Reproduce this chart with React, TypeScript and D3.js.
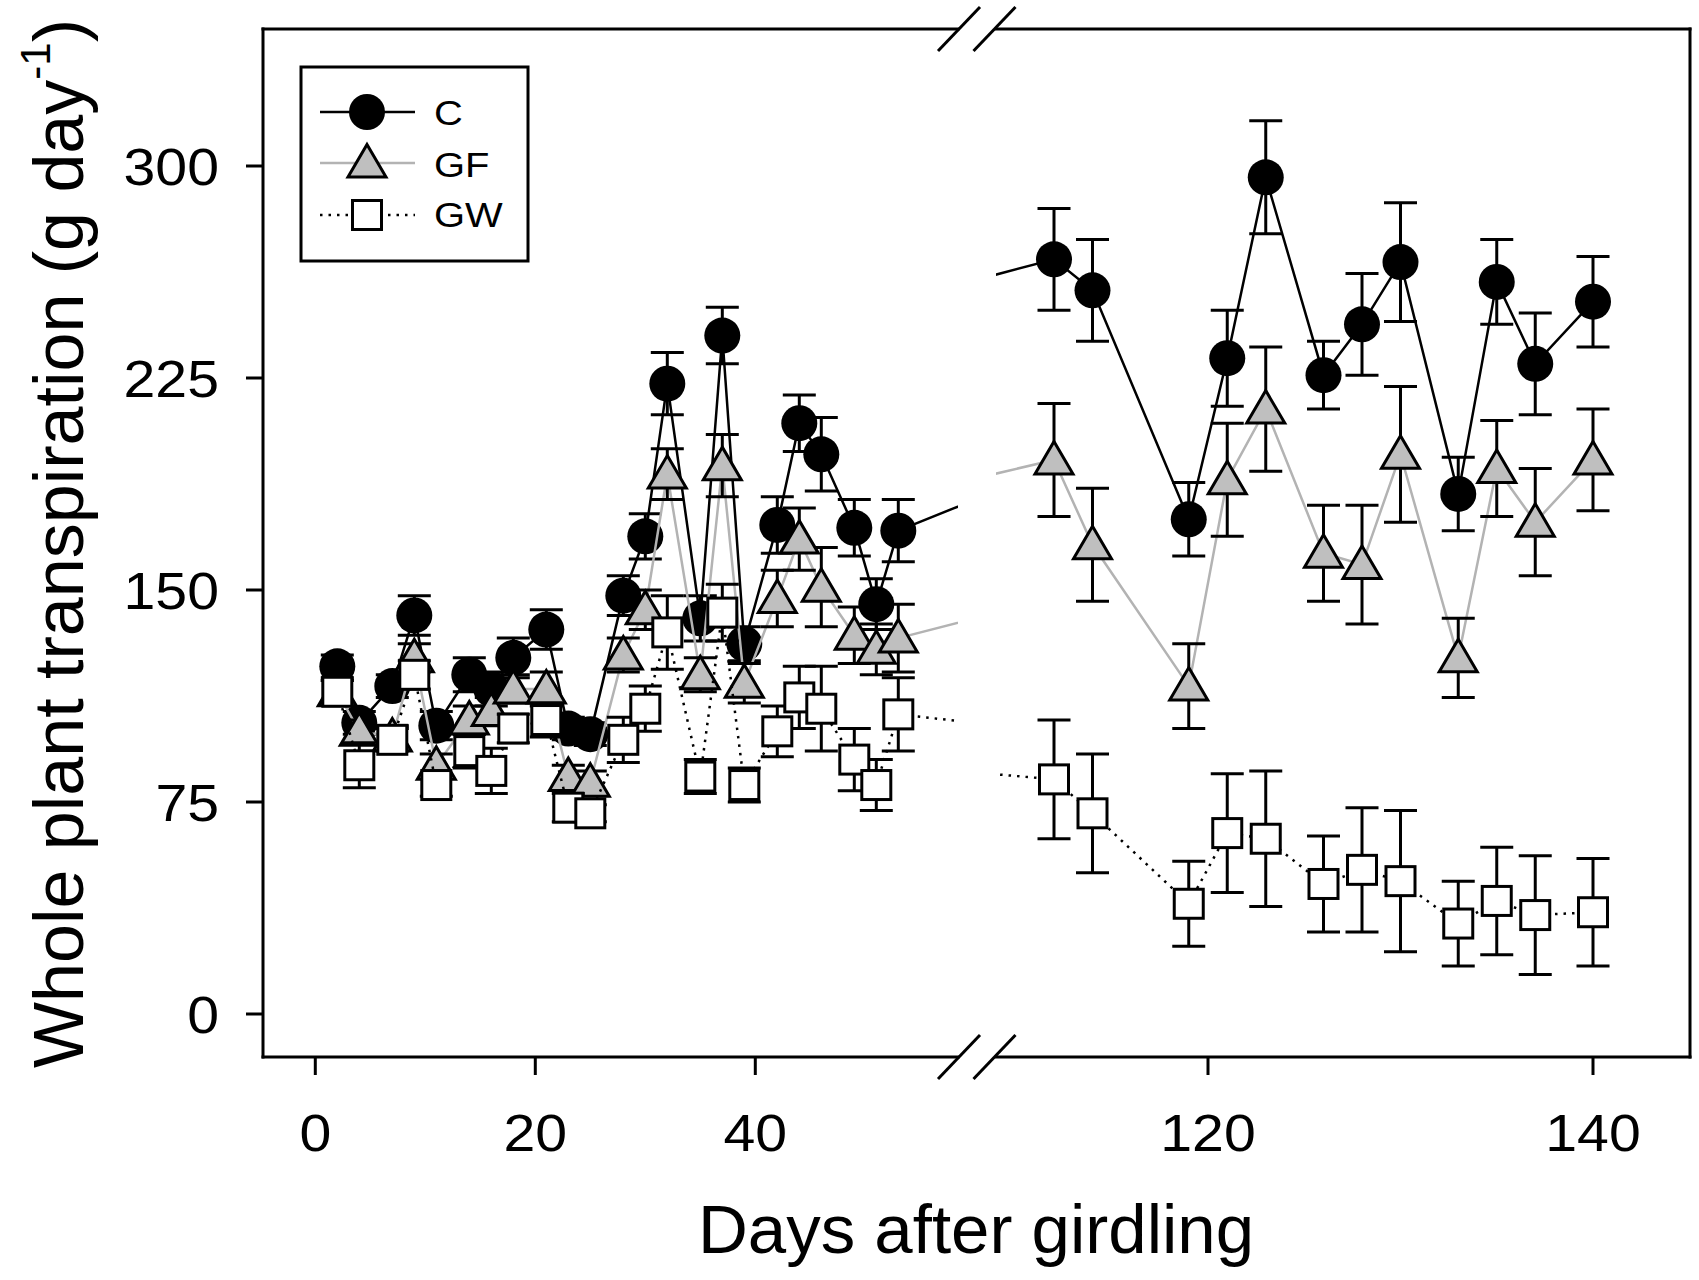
import React from "react";
import * as d3 from "d3";

// ---------- data ----------
const DAYS_EARLY = [2, 4, 7, 9, 11, 14, 16, 18, 21, 23, 25, 28, 30, 32, 35, 37, 39, 42, 44, 46, 49, 51, 53];
const C_EARLY = [123, 103, 116, 141, 102, 120, 115, 126, 136, 101, 99, 148, 169, 223, 140, 240, 131, 173, 209, 198, 172, 145, 171];
const C_EARLY_ERR = [4, 4, 4, 7, 5, 6, 6, 7, 7, 4, 4, 7, 8, 11, 8, 10, 6, 10, 10, 13, 10, 9, 11];
const GF_EARLY = [114, 100, 98, 126, 88, 104, 107, 115, 115, 84, 82, 127, 143, 191, 120, 194, 117, 147, 168, 151, 134, 129, 133];
const GF_EARLY_ERR = [4, 4, 4, 5, 4, 5, 5, 5, 6, 4, 4, 6, 7, 9, 6, 11, 7, 10, 11, 14, 10, 9, 12];
const GW_EARLY = [114, 88, 97, 120, 81, 93, 86, 101, 104, 73, 71, 97, 108, 135, 84, 142, 81, 100, 112, 108, 90, 81, 106];
const GW_EARLY_ERR = [4, 8, 4, 5, 4, 6, 8, 5, 6, 5, 3, 8, 8, 13, 6, 10, 6, 9, 11, 15, 11, 9, 13];

const DAYS_LATE = [112, 114, 119, 121, 123, 126, 128, 130, 133, 135, 137, 140];
const C_LATE = [267, 256, 175, 232, 296, 226, 244, 266, 184, 259, 230, 252];
const C_LATE_ERR = [18, 18, 13, 17, 20, 12, 18, 21, 13, 15, 18, 16];
const GF_LATE = [196, 166, 116, 189, 214, 163, 159, 198, 126, 193, 174, 196];
const GF_LATE_ERR = [20, 20, 15, 20, 22, 17, 21, 24, 14, 17, 19, 18];
const GW_LATE = [83, 71, 39, 64, 62, 46, 51, 47, 32, 40, 35, 36];
const GW_LATE_ERR = [21, 21, 15, 21, 24, 17, 22, 25, 15, 19, 21, 19];

// unseen neighbouring measurements beyond the axis break (only their connecting lines show)
const DAY_AFTER_EARLY = 60;
const AFTER_EARLY = { C: 182, GF: 140, GW: 103 };
const DAY_BEFORE_LATE = 107;
const BEFORE_LATE = { C: 258, GF: 188, GW: 86 };

const Y_TICKS = [0, 75, 150, 225, 300];
const X_TICKS_EARLY = [0, 20, 40];
const X_TICKS_LATE = [120, 140];
const SERIES_NAMES = ["C", "GF", "GW"];

// ---------- layout ----------
const W = 1699;
const H = 1280;
const LEFT = 263;
const RIGHT = 1690;
const TOP = 29;
const BOTTOM = 1057;
const BREAK_L = 958;
const BREAK_R = 996;
const FONT = "'Liberation Sans', Arial, Helvetica, sans-serif";

const y = d3.scaleLinear().domain([0, 300]).range([1014, 166]);
const xEarly = d3.scaleLinear().domain([0, 40]).range([315.3, 755.3]);
const xLate = d3.scaleLinear().domain([120, 140]).range([1208, 1593]);

type Pt = { d: number; v: number; e?: number };

function pts(days: number[], vals: number[], errs: number[]): Pt[] {
  return days.map((d, i) => ({ d, v: vals[i], e: errs[i] }));
}

const GRAY_LINE = "#b3b3b3";
const GRAY_FILL = "#bfbfbf";

function Marker({ kind, cx, cy }: { kind: string; cx: number; cy: number }) {
  if (kind === "C") return <circle cx={cx} cy={cy} r={18} fill="#000" />;
  if (kind === "GF")
    return (
      <path
        d={`M${cx},${cy - 18.5} L${cx + 19},${cy + 14} L${cx - 19},${cy + 14} Z`}
        fill={GRAY_FILL}
        stroke="#000"
        strokeWidth={3}
        strokeLinejoin="miter"
      />
    );
  return <rect x={cx - 14.5} y={cy - 14.5} width={29} height={29} fill="#fff" stroke="#000" strokeWidth={3} />;
}

function lineStyle(kind: string) {
  if (kind === "C") return { stroke: "#000", strokeWidth: 2.5 };
  if (kind === "GF") return { stroke: GRAY_LINE, strokeWidth: 2.5 };
  return { stroke: "#000", strokeWidth: 2.5, strokeDasharray: "2.5 6" };
}

function Series({
  kind,
  data,
  extra,
  x,
  clip,
}: {
  kind: string;
  data: Pt[];
  extra: Pt;
  x: d3.ScaleLinear<number, number>;
  clip: string;
}) {
  const all = [...data, extra].sort((a, b) => a.d - b.d);
  const gen = d3
    .line<Pt>()
    .x((p) => x(p.d))
    .y((p) => y(p.v));
  const st = lineStyle(kind);
  return (
    <g clipPath={`url(#${clip})`}>
      <path d={gen(all) || ""} fill="none" {...st} />
      {data.map((p, i) => {
        const cx = x(p.d);
        const y1 = y(p.v + (p.e || 0));
        const y2 = y(p.v - (p.e || 0));
        return (
          <g key={"e" + i} stroke="#000" strokeWidth={3}>
            <line x1={cx} x2={cx} y1={y1} y2={y2} />
            <line x1={cx - 16.5} x2={cx + 16.5} y1={y1} y2={y1} />
            <line x1={cx - 16.5} x2={cx + 16.5} y1={y2} y2={y2} />
          </g>
        );
      })}
      {data.map((p, i) => (
        <Marker key={"m" + i} kind={kind} cx={x(p.d)} cy={y(p.v)} />
      ))}
    </g>
  );
}

function Txt({
  x,
  yy,
  size,
  anchor,
  children,
  sx = 1,
}: {
  x: number;
  yy: number;
  size: number;
  anchor: string;
  children: React.ReactNode;
  sx?: number;
}) {
  return (
    <text
      transform={`translate(${x},${yy}) scale(${sx},1)`}
      fontFamily={FONT}
      fontSize={size}
      textAnchor={anchor as any}
      fill="#000"
    >
      {children}
    </text>
  );
}

export default function App() {
  const earlySets: Record<string, Pt[]> = {
    C: pts(DAYS_EARLY, C_EARLY, C_EARLY_ERR),
    GF: pts(DAYS_EARLY, GF_EARLY, GF_EARLY_ERR),
    GW: pts(DAYS_EARLY, GW_EARLY, GW_EARLY_ERR),
  };
  const lateSets: Record<string, Pt[]> = {
    C: pts(DAYS_LATE, C_LATE, C_LATE_ERR),
    GF: pts(DAYS_LATE, GF_LATE, GF_LATE_ERR),
    GW: pts(DAYS_LATE, GW_LATE, GW_LATE_ERR),
  };

  const slash = (cx: number, cy: number) => (
    <line x1={cx - 21} y1={cy + 22} x2={cx + 21} y2={cy - 22} stroke="#000" strokeWidth={3} />
  );

  const legendRows = [112, 163, 215];
  const legendBase = [125, 177, 227];

  return (
    <svg
      width={W}
      height={H}
      viewBox={`0 0 ${W} ${H}`}
      style={{ position: "absolute", left: 0, top: 0, display: "block", background: "#fff" }}
    >
      <defs>
        <clipPath id="clipEarly">
          <rect x={LEFT} y={TOP} width={BREAK_L - LEFT} height={BOTTOM - TOP} />
        </clipPath>
        <clipPath id="clipLate">
          <rect x={BREAK_R} y={TOP} width={RIGHT - BREAK_R} height={BOTTOM - TOP} />
        </clipPath>
      </defs>
      <rect x={0} y={0} width={W} height={H} fill="#fff" />

      {/* data */}
      {SERIES_NAMES.map((k) => (
        <Series
          key={"E" + k}
          kind={k}
          data={earlySets[k]}
          extra={{ d: DAY_AFTER_EARLY, v: (AFTER_EARLY as any)[k] }}
          x={xEarly}
          clip="clipEarly"
        />
      ))}
      {SERIES_NAMES.map((k) => (
        <Series
          key={"L" + k}
          kind={k}
          data={lateSets[k]}
          extra={{ d: DAY_BEFORE_LATE, v: (BEFORE_LATE as any)[k] }}
          x={xLate}
          clip="clipLate"
        />
      ))}

      {/* frame */}
      <g stroke="#000" strokeWidth={3} fill="none" strokeLinecap="square">
        <line x1={LEFT} y1={TOP} x2={LEFT} y2={BOTTOM} />
        <line x1={RIGHT} y1={TOP} x2={RIGHT} y2={BOTTOM} />
        <line x1={LEFT} y1={TOP} x2={BREAK_L} y2={TOP} />
        <line x1={BREAK_R} y1={TOP} x2={RIGHT} y2={TOP} />
        <line x1={LEFT} y1={BOTTOM} x2={BREAK_L} y2={BOTTOM} />
        <line x1={BREAK_R} y1={BOTTOM} x2={RIGHT} y2={BOTTOM} />
      </g>
      <g strokeLinecap="butt">
        {slash(959, TOP)}
        {slash(994.5, TOP)}
        {slash(959, BOTTOM)}
        {slash(994.5, BOTTOM)}
      </g>

      {/* y axis */}
      {Y_TICKS.map((t) => (
        <g key={"y" + t}>
          <line x1={246} x2={LEFT} y1={y(t)} y2={y(t)} stroke="#000" strokeWidth={3} />
          <Txt x={219} yy={y(t) + 19} size={52} anchor="end" sx={1.1}>
            {t}
          </Txt>
        </g>
      ))}

      {/* x axis */}
      {X_TICKS_EARLY.map((t) => (
        <g key={"xe" + t}>
          <line x1={xEarly(t)} x2={xEarly(t)} y1={BOTTOM} y2={BOTTOM + 18} stroke="#000" strokeWidth={3} />
          <Txt x={xEarly(t)} yy={1151} size={52} anchor="middle" sx={1.1}>
            {t}
          </Txt>
        </g>
      ))}
      {X_TICKS_LATE.map((t) => (
        <g key={"xl" + t}>
          <line x1={xLate(t)} x2={xLate(t)} y1={BOTTOM} y2={BOTTOM + 18} stroke="#000" strokeWidth={3} />
          <Txt x={xLate(t)} yy={1151} size={52} anchor="middle" sx={1.1}>
            {t}
          </Txt>
        </g>
      ))}

      {/* axis titles */}
      <Txt x={976} yy={1253} size={69} anchor="middle">
        Days after girdling
      </Txt>
      <text
        transform={`translate(83,1068) rotate(-90)`}
        fontFamily={FONT}
        fontSize={70}
        textAnchor="start"
        fill="#000"
      >
        Whole plant transpiration (g day
        <tspan dy={-33} fontSize={42}>
          -1
        </tspan>
        <tspan dy={33}>)</tspan>
      </text>

      {/* legend */}
      <rect x={301} y={67} width={227} height={194} fill="#fff" stroke="#000" strokeWidth={3} />
      {SERIES_NAMES.map((k, i) => {
        const st = lineStyle(k);
        return (
          <g key={"lg" + k}>
            <line x1={320} x2={415} y1={legendRows[i]} y2={legendRows[i]} {...st} />
            <Marker kind={k} cx={367} cy={legendRows[i]} />
            <Txt x={434} yy={legendBase[i]} size={35} anchor="start" sx={1.14}>
              {k}
            </Txt>
          </g>
        );
      })}
    </svg>
  );
}
